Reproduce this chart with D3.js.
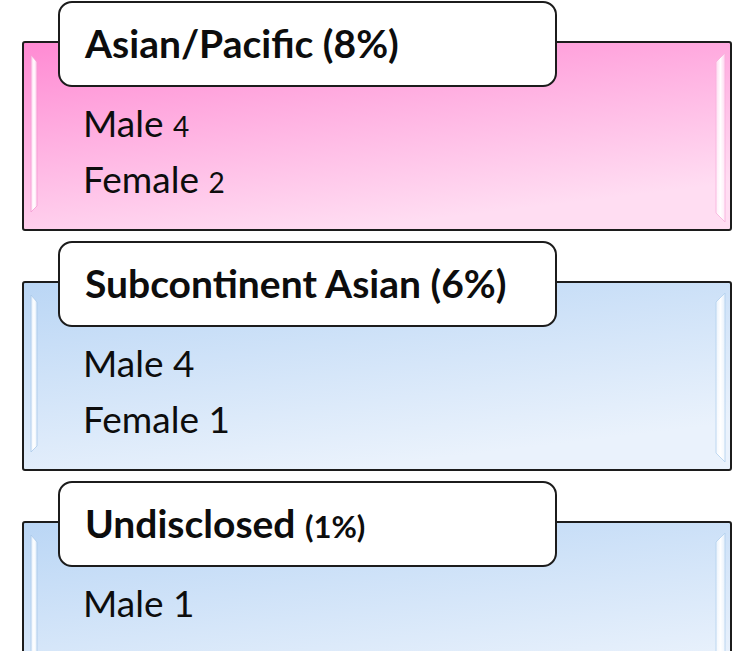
<!DOCTYPE html>
<html>
<head>
<meta charset="utf-8">
<script src="https://cdn.jsdelivr.net/npm/d3@7"></script>
<style>
  body { margin: 0; background: #fff; }
  text { font-family: Lato, "Open Sans", sans-serif; fill: #0d0d0d; }
</style>
</head>
<body>
<script>
// values
const groups = ["Asian/Pacific", "Subcontinent Asian", "Undisclosed"]
const percents = [8, 6, 1]
const maleCounts = [4, 4, 1]
const femaleCounts = [2, 1, null]
const rowLabels = ["Male", "Female"]

// styling per panel (kept apart from the values)
const fills = ["pink", "blue", "blue"]
const smallCount = [true, false, false]
const smallPct = [false, false, true]

const width = 735, height = 651

const svg = d3.select("body").append("svg")
    .attr("width", width)
    .attr("height", height)

const defs = svg.append("defs")

// panel gradients
const grads = {
    pink: ["#ff8ad3", "#ffddf2"],
    blue: ["#bad6f5", "#eaf2fc"]
}
Object.entries(grads).forEach(([k, c]) => {
    const g = defs.append("linearGradient").attr("id", "g-" + k)
        .attr("x1", 0).attr("y1", 0).attr("x2", 0.45).attr("y2", 1)
    g.append("stop").attr("offset", 0).attr("stop-color", c[0])
    g.append("stop").attr("offset", 1).attr("stop-color", c[1])
})
// glossy side strips
const shine = defs.append("linearGradient").attr("id", "shine")
    .attr("x1", 0).attr("y1", 0).attr("x2", 1).attr("y2", 0)
shine.append("stop").attr("offset", 0).attr("stop-color", "#fff").attr("stop-opacity", 0.5)
shine.append("stop").attr("offset", 0.5).attr("stop-color", "#fff").attr("stop-opacity", 1)
shine.append("stop").attr("offset", 1).attr("stop-color", "#fff").attr("stop-opacity", 0.4)

// one band per group, 240px apart
const y = d3.scaleBand()
    .domain(groups)
    .range([2, 2 + 240 * groups.length])

// box geometry
const box = {x: 23, w: 708, top: 40, h: 188}
const tab = {x: 59, w: 497, h: 84}

// rows inside a box
const rowY = d3.scalePoint()
    .domain(rowLabels)
    .range([95, 151])

const panels = svg.selectAll(".panel")
    .data(groups.map((g, i) => ({
        name: g, pct: percents[i], counts: [maleCounts[i], femaleCounts[i]],
        fill: fills[i], smallCount: smallCount[i], smallPct: smallPct[i]
    })))
    .enter()
    .append("g")
    .attr("class", "panel")
    .attr("transform", d => "translate(0," + y(d.name) + ")")

// main box
panels.append("rect")
    .attr("x", box.x)
    .attr("y", box.top)
    .attr("width", box.w)
    .attr("height", box.h)
    .attr("rx", 2)
    .attr("fill", d => "url(#g-" + d.fill + ")")
    .attr("stroke", "#1c1c1c")
    .attr("stroke-width", 2)

// left and right bevel highlights
panels.append("path")
    .attr("d", () => {
        const l = box.x + 8, t = box.top + 13, b = box.top + box.h - 18
        return `M${l},${t} L${l + 6},${t + 7} L${l + 6},${b - 6} L${l},${b} Z`
    })
    .attr("fill", "url(#shine)")
    .attr("stroke", d => d.fill == "pink" ? "#f49bd2" : "#a9c9ea")
    .attr("stroke-width", 0.8)
panels.append("path")
    .attr("d", () => {
        const r = box.x + box.w - 6, t = box.top + 11, b = box.top + box.h - 8
        return `M${r},${t} L${r - 9},${t + 9} L${r - 9},${b - 9} L${r},${b} Z`
    })
    .attr("fill", "url(#shine)")
    .attr("stroke", d => d.fill == "pink" ? "#f7b0dc" : "#b3d0ee")
    .attr("stroke-width", 0.8)

// white title tab
panels.append("rect")
    .attr("x", tab.x)
    .attr("y", 0)
    .attr("width", tab.w)
    .attr("height", tab.h)
    .attr("rx", 13)
    .attr("fill", "#fff")
    .attr("stroke", "#1c1c1c")
    .attr("stroke-width", 2)

// title text
const title = panels.append("text")
    .attr("x", tab.x + 26)
    .attr("y", 56)
    .style("font-weight", 700)
    .style("font-size", "39px")
title.append("tspan").text(d => d.name + " ")
title.append("tspan")
    .style("font-size", d => d.smallPct ? "31px" : null)
    .text(d => "(" + d.pct + "%)")

// body lines
panels.each(function(d) {
    const g = d3.select(this)
    rowLabels.forEach((lab, j) => {
        if (d.counts[j] == null) return
        const t = g.append("text")
            .attr("x", box.x + 60)
            .attr("y", box.top + rowY(lab))
            .style("font-size", "37px")
        t.append("tspan").text(lab + " ")
        t.append("tspan")
            .style("font-size", d.smallCount ? "28px" : null)
            .text(d.counts[j])
    })
})
</script>
</body>
</html>
